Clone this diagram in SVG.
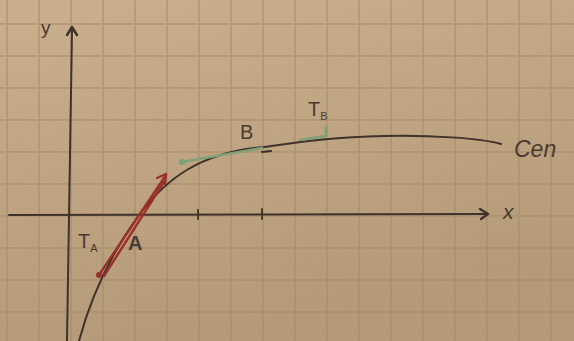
<svg xmlns="http://www.w3.org/2000/svg" width="574" height="341" viewBox="0 0 574 341">
<defs>
<linearGradient id="paper" x1="0" y1="0" x2="0.3" y2="1">
<stop offset="0" stop-color="#cbb08d"/>
<stop offset="0.5" stop-color="#c0a583"/>
<stop offset="1" stop-color="#b49a78"/>
</linearGradient>
<pattern id="minor" x="6" y="23" width="6.4" height="6.4" patternUnits="userSpaceOnUse">
<path d="M0,0 V6.4 M0,0 H6.4" stroke="#a88c6a" stroke-width="0.6" fill="none" opacity="0.25"/>
</pattern>
<pattern id="major" x="6" y="23" width="32" height="32" patternUnits="userSpaceOnUse">
<path d="M1,0 V32 M0,1 H32" stroke="#a5896b" stroke-width="2" fill="none" opacity="0.5"/>
</pattern>
</defs>
<style>
.ink{fill:none;stroke:#3f322a;stroke-linecap:round;stroke-linejoin:round}
.red{fill:none;stroke:#9b3027;stroke-width:2.4;stroke-linecap:round;stroke-linejoin:round}
.grn{fill:none;stroke:#7ea178;stroke-width:2.6;stroke-linecap:round;stroke-linejoin:round}
.lbl{font-family:"Liberation Sans",Arial,sans-serif;fill:#4a3a30}
</style>
<rect width="574" height="341" fill="url(#paper)"/>
<rect width="574" height="341" fill="url(#minor)"/>
<rect width="574" height="341" fill="url(#major)"/>

<g id="axes">
<path class="ink" stroke-width="2" d="M9,215 L487,214"/>
<path class="ink" stroke-width="2.4" d="M480,209 L488,214 L481,219"/>
<path class="ink" stroke-width="2" d="M67,341 L72,30"/>
<path class="ink" stroke-width="2.4" d="M67,35 L72,27 L77,35"/>
<path class="ink" stroke-width="1.8" d="M198,210 V219 M262,209 V219"/>
<text class="lbl" x="41" y="34" font-size="19">y</text>
<text class="lbl" x="503" y="219" font-size="21" font-style="italic">x</text>
</g>

<g id="curve">
<path class="ink" stroke-width="2" d="M79,341 C90,300 110,255 139,215 C165,180 200,152 264,147 C300,142 330,137 384,136 C430,135 480,138 501,144"/>
<path class="ink" stroke-width="2.2" d="M262,152 L271,151"/>
<text class="lbl" x="514" y="157" font-size="23" font-family="'DejaVu Serif',serif" font-style="italic" fill="#4d4038">Cen</text>
</g>

<g id="point-A">
<path class="red" d="M99,275 L166,175"/>
<path class="red" stroke-width="1.6" d="M104,276 L164,182"/>
<path class="red" d="M157,178 L166,174 L165,184"/>
<circle cx="99" cy="275" r="3" fill="#9b3027"/>
<text class="lbl" x="128" y="250" font-size="20" font-weight="bold">A</text>
<text class="lbl" x="78" y="248" font-size="20" fill="#8c3a2c">T<tspan font-size="11" dy="4">A</tspan></text>
</g>

<g id="point-B">
<path class="grn" d="M182,162 L262,148"/>
<path class="grn" d="M300,140 L326,136 L326,127"/>
<circle cx="182" cy="162" r="3.2" fill="#7ea178"/>
<text class="lbl" x="240" y="139" font-size="20">B</text>
<text class="lbl" x="308" y="116" font-size="20" fill="#7a9a70">T<tspan font-size="11" dy="4">B</tspan></text>
</g>
</svg>
